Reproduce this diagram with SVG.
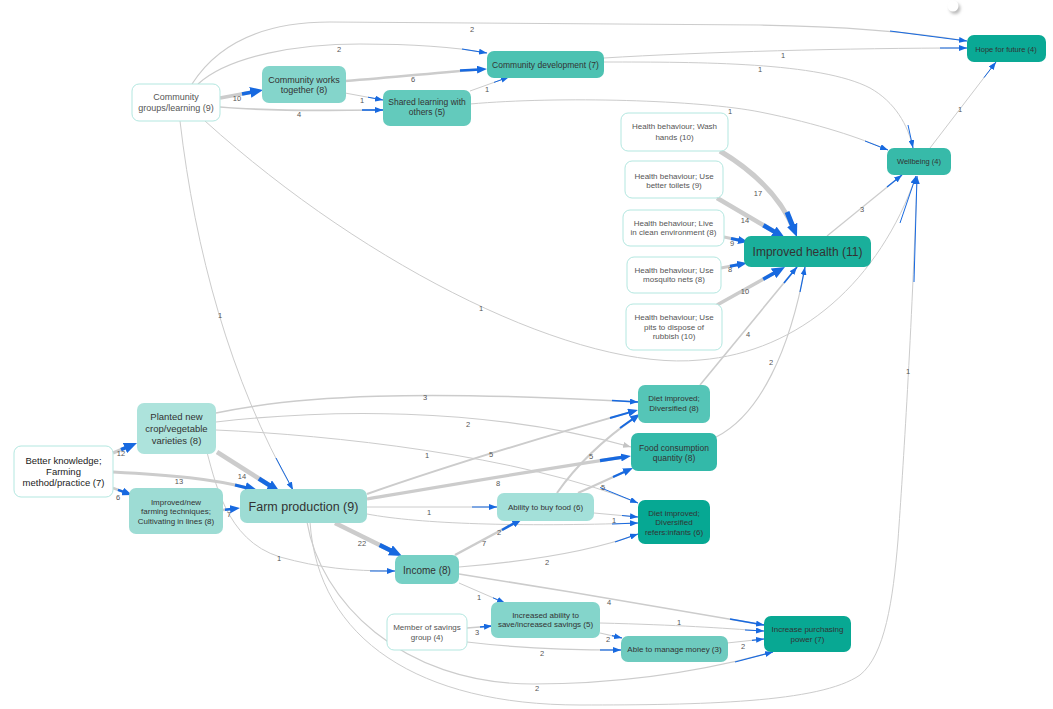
<svg xmlns="http://www.w3.org/2000/svg" width="1053" height="709" viewBox="0 0 1053 709">
<style>
.e{fill:none;stroke:#cccccc}
.b{fill:none;stroke:#1769e0}
.l{font-family:"Liberation Sans",Arial,sans-serif;font-size:7.5px;fill:#555;text-anchor:middle}
.n text{font-family:"Liberation Sans",Arial,sans-serif;text-anchor:middle;fill:#333}
.w rect{fill:#ffffff;stroke:#b3e7e0;stroke-width:1}
.w text{fill:#555}
</style>
<defs>
<marker id="as" viewBox="0 0 8 6" markerWidth="8" markerHeight="6" refX="8" refY="3" orient="auto" markerUnits="userSpaceOnUse"><path d="M0,0 L8,3 L0,6 z" fill="#1769e0"/></marker>
<marker id="ag" viewBox="0 0 8 6" markerWidth="8" markerHeight="6" refX="8" refY="3" orient="auto" markerUnits="userSpaceOnUse"><path d="M0,0 L8,3 L0,6 z" fill="#c4c4c4"/></marker>
<marker id="am" viewBox="0 0 10 8" markerWidth="10" markerHeight="8" refX="4" refY="4" orient="auto" markerUnits="userSpaceOnUse"><path d="M0,0 L10,4 L0,8 z" fill="#1769e0"/></marker>
<marker id="al" viewBox="0 0 13 11" markerWidth="13" markerHeight="11" refX="5" refY="5.5" orient="auto" markerUnits="userSpaceOnUse"><path d="M0,0 L13,5.5 L0,11 z" fill="#1769e0"/></marker>
<filter id="sh" x="-1" y="-1" width="3" height="3"><feGaussianBlur stdDeviation="1.5"/></filter>
</defs>
<rect width="1053" height="709" fill="#ffffff"/>
<g id="connectors">
<path class="e" stroke-width="3.5" d="M220,98 L255.2,91.5"/>
<path class="b" stroke-width="3.5" d="M242,94 L255.2,91.5" marker-end="url(#al)"/>
<text class="l" x="237" y="101">10</text>
<path class="e" stroke-width="1.6" d="M220,107 C280,112 330,110 383,110"/>
<path class="b" stroke-width="1.6" d="M362,110 L383,110" marker-end="url(#as)"/>
<text class="l" x="299" y="117">4</text>
<path class="e" stroke-width="1.2" d="M198,84 C230,55 300,44 360,44 C420,44 460,48 487,53"/>
<path class="b" stroke-width="1.2" d="M462,49 L487,53" marker-end="url(#as)"/>
<text class="l" x="339" y="52">2</text>
<path class="e" stroke-width="1.2" d="M192,84 C220,40 270,22 330,22 L760,25 C830,26 900,30 967,41"/>
<path class="b" stroke-width="1.2" d="M890,31 L967,41" marker-end="url(#as)"/>
<text class="l" x="472" y="32">2</text>
<path class="e" stroke-width="1" d="M180,121 C195,250 230,380 293,490"/>
<path class="b" stroke-width="1" d="M276,458 L293,490" marker-end="url(#as)"/>
<text class="l" x="220" y="318">1</text>
<path class="e" stroke-width="1" d="M205,121 C370,270 580,372 700,360 C800,352 880,280 916,176"/>
<path class="b" stroke-width="1" d="M900,223 L916,176" marker-end="url(#as)"/>
<text class="l" x="481" y="311">1</text>
<path class="e" stroke-width="2.5" d="M345,81 C400,77 440,72 481,69.4"/>
<path class="b" stroke-width="2.5" d="M460,70.6 L481,69.4" marker-end="url(#am)"/>
<text class="l" x="413" y="82">6</text>
<path class="e" stroke-width="1" d="M345,93 L383,100"/>
<path class="b" stroke-width="1" d="M368,97.2 L383,100" marker-end="url(#as)"/>
<text class="l" x="362" y="103">1</text>
<path class="e" stroke-width="1" d="M470,91 L509,77"/>
<path class="b" stroke-width="1" d="M494,82.4 L509,77" marker-end="url(#as)"/>
<text class="l" x="487" y="92">1</text>
<path class="e" stroke-width="1" d="M470,104 C560,96 700,100 760,112 C820,124 860,138 888,150"/>
<path class="b" stroke-width="1" d="M865,141 L888,150" marker-end="url(#as)"/>
<text class="l" x="730" y="114">1</text>
<path class="e" stroke-width="1" d="M604,58 C700,52 850,48 967,48"/>
<path class="b" stroke-width="1" d="M940,48 L967,48" marker-end="url(#as)"/>
<text class="l" x="783" y="58">1</text>
<path class="e" stroke-width="1" d="M604,62 C700,62 820,62 870,88 C895,102 908,125 913,148"/>
<path class="b" stroke-width="1" d="M908,125 L913,148" marker-end="url(#as)"/>
<text class="l" x="760" y="72">1</text>
<path class="e" stroke-width="1" d="M930,148 L996,62"/>
<path class="b" stroke-width="1" d="M984,77.6 L996,62" marker-end="url(#as)"/>
<text class="l" x="960" y="112">1</text>
<path class="e" stroke-width="1.2" d="M827,236 L902,175"/>
<path class="b" stroke-width="1.2" d="M887,187 L902,175" marker-end="url(#as)"/>
<text class="l" x="862" y="212">3</text>
<path class="e" stroke-width="5" d="M720,151 C760,175 783,203 794,229.5"/>
<path class="b" stroke-width="5" d="M787,212 L794,229.5" marker-end="url(#al)"/>
<text class="l" x="758" y="196">17</text>
<path class="e" stroke-width="4.5" d="M717,198 L778.1,233.9"/>
<path class="b" stroke-width="4.5" d="M763.4,225.3 L778.1,233.9" marker-end="url(#al)"/>
<text class="l" x="745" y="223">14</text>
<path class="e" stroke-width="3" d="M724,237 L742.1,240.8"/>
<path class="b" stroke-width="3" d="M731,238.5 L742.1,240.8" marker-end="url(#am)"/>
<text class="l" x="732" y="246">9</text>
<path class="e" stroke-width="3" d="M721,268 L741.1,264.1"/>
<path class="b" stroke-width="3" d="M730,266.2 L741.1,264.1" marker-end="url(#am)"/>
<text class="l" x="730" y="272">8</text>
<path class="e" stroke-width="3.5" d="M717,305 L778,270.9"/>
<path class="b" stroke-width="3.5" d="M763.2,279.2 L778,270.9" marker-end="url(#al)"/>
<text class="l" x="745" y="294">10</text>
<path class="e" stroke-width="1.6" d="M700,385 L797,267"/>
<path class="b" stroke-width="1.6" d="M784,283 L797,267" marker-end="url(#as)"/>
<text class="l" x="748" y="337">4</text>
<path class="e" stroke-width="1.2" d="M716,437 C760,415 790,350 805,267"/>
<path class="b" stroke-width="1.2" d="M800,292 L805,267" marker-end="url(#as)"/>
<text class="l" x="771" y="365">2</text>
<path class="e" stroke-width="3.5" d="M113,453 L129.6,446.1"/>
<path class="b" stroke-width="3.5" d="M121,449.7 L129.6,446.1" marker-end="url(#al)"/>
<text class="l" x="121" y="456">12</text>
<path class="e" stroke-width="3" d="M113,472 C170,475 215,479 250.3,488.8"/>
<path class="b" stroke-width="3" d="M235,485 L250.3,488.8" marker-end="url(#al)"/>
<text class="l" x="179" y="484">13</text>
<path class="e" stroke-width="2.5" d="M113,488 L126.4,492.9"/>
<path class="b" stroke-width="2.5" d="M118,489.8 L126.4,492.9" marker-end="url(#am)"/>
<text class="l" x="118" y="500">6</text>
<path class="e" stroke-width="4.5" d="M217,452 L273.2,487.7"/>
<path class="b" stroke-width="4.5" d="M258.9,478.6 L273.2,487.7" marker-end="url(#al)"/>
<text class="l" x="242" y="479">14</text>
<path class="e" stroke-width="1.5" d="M216,413 C300,395 420,390 638,402"/>
<path class="b" stroke-width="1.5" d="M612,400.6 L638,402" marker-end="url(#as)"/>
<text class="l" x="425" y="400">3</text>
<path class="e" stroke-width="1.2" d="M216,422 C320,410 480,405 631,447" marker-end="url(#ag)"/>
<text class="l" x="468" y="427">2</text>
<path class="e" stroke-width="1" d="M216,430 C330,435 520,455 638,503"/>
<path class="b" stroke-width="1" d="M600,487.5 L638,503" marker-end="url(#as)"/>
<text class="l" x="427" y="458">1</text>
<path class="e" stroke-width="1" d="M205,445 C215,480 225,540 280,557 C320,568 350,571 395,571"/>
<path class="b" stroke-width="1" d="M370,571 L395,571" marker-end="url(#as)"/>
<text class="l" x="279" y="561">1</text>
<path class="e" stroke-width="2.5" d="M223,510 L234,508.7"/>
<path class="b" stroke-width="2.5" d="M225,509.8 L234,508.7" marker-end="url(#am)"/>
<text class="l" x="229" y="517">7</text>
<path class="e" stroke-width="2" d="M367,494 C450,465 550,435 632.2,411.6"/>
<path class="b" stroke-width="2" d="M610,418 L632.2,411.6" marker-end="url(#am)"/>
<text class="l" x="491" y="457">5</text>
<path class="e" stroke-width="3.2" d="M367,499 C450,485 550,468 625,456.9"/>
<path class="b" stroke-width="3.2" d="M600,460.6 L625,456.9" marker-end="url(#am)"/>
<text class="l" x="498" y="486">8</text>
<path class="e" stroke-width="1" d="M367,507 L497,507"/>
<path class="b" stroke-width="1" d="M472,507 L497,507" marker-end="url(#as)"/>
<text class="l" x="429" y="515">1</text>
<path class="e" stroke-width="1" d="M367,514 C420,524 520,527 638,523"/>
<path class="b" stroke-width="1" d="M612,524 L638,523" marker-end="url(#as)"/>
<path class="e" stroke-width="1" d="M594,513 L638,517"/>
<path class="b" stroke-width="1" d="M622,515.5 L638,517" marker-end="url(#as)"/>
<text class="l" x="614" y="523">1</text>
<path class="e" stroke-width="4.5" d="M335,523 L394.8,552.5"/>
<path class="b" stroke-width="4.5" d="M379.6,545 L394.8,552.5" marker-end="url(#al)"/>
<text class="l" x="362" y="546">22</text>
<path class="e" stroke-width="1.2" d="M307,522 C320,600 400,684 533,684 C620,684 700,672 773,652"/>
<path class="b" stroke-width="1.2" d="M735,662 L773,652" marker-end="url(#as)"/>
<text class="l" x="537" y="691">2</text>
<path class="e" stroke-width="1" d="M310,522 C318,640 420,705 580,705 C700,705 820,703 860,675 C885,655 893,600 898,540 C903,470 912,330 917,176"/>
<path class="b" stroke-width="1" d="M914,282 L917,176" marker-end="url(#as)"/>
<text class="l" x="908" y="374">1</text>
<path class="e" stroke-width="2" d="M557,493 C580,460 610,435 635.1,417.4"/>
<path class="b" stroke-width="2" d="M620,428 L635.1,417.4" marker-end="url(#am)"/>
<text class="l" x="591" y="459">5</text>
<path class="e" stroke-width="2" d="M578,493 L627.5,470.5"/>
<path class="b" stroke-width="2" d="M613,477 L627.5,470.5" marker-end="url(#am)"/>
<text class="l" x="603" y="490">5</text>
<path class="e" stroke-width="2.5" d="M455,555 L516.7,521.8"/>
<path class="b" stroke-width="2.5" d="M502,530 L516.7,521.8" marker-end="url(#am)"/>
<text class="l" x="484" y="546">7</text>
<text class="l" x="499" y="535">2</text>
<path class="e" stroke-width="1.2" d="M459,567 C520,562 590,552 638,534"/>
<path class="b" stroke-width="1.2" d="M615,542 L638,534" marker-end="url(#as)"/>
<text class="l" x="547" y="565">2</text>
<path class="e" stroke-width="1" d="M459,583 L505,603"/>
<path class="b" stroke-width="1" d="M493,597.8 L505,603" marker-end="url(#as)"/>
<text class="l" x="479" y="600">1</text>
<path class="e" stroke-width="1.6" d="M459,574 C560,590 680,610 764,625"/>
<path class="b" stroke-width="1.6" d="M730,619 L764,625" marker-end="url(#as)"/>
<text class="l" x="609" y="605">4</text>
<path class="e" stroke-width="1.5" d="M467,628 L492,626"/>
<path class="b" stroke-width="1.5" d="M480,627 L492,626" marker-end="url(#as)"/>
<text class="l" x="477" y="635">3</text>
<path class="e" stroke-width="1.2" d="M467,642 C500,646 560,650 621,650"/>
<path class="b" stroke-width="1.2" d="M600,650 L621,650" marker-end="url(#as)"/>
<text class="l" x="542" y="656">2</text>
<path class="e" stroke-width="1.2" d="M600,633 L622,638"/>
<path class="b" stroke-width="1.2" d="M612,635.7 L622,638" marker-end="url(#as)"/>
<text class="l" x="608" y="642">2</text>
<path class="e" stroke-width="1" d="M600,623 C680,625 720,628 764,631"/>
<path class="b" stroke-width="1" d="M745,630 L764,631" marker-end="url(#as)"/>
<text class="l" x="679" y="625">1</text>
<path class="e" stroke-width="1.2" d="M727,643 L764,639"/>
<path class="b" stroke-width="1.2" d="M752,640.3 L764,639" marker-end="url(#as)"/>
<text class="l" x="743" y="649">2</text>
</g>

<g id="n-cg" class="n w"><rect x="132" y="84" width="88" height="37" rx="7"/><text x="176" y="100" font-size="9">Community</text><text x="176" y="111" font-size="9">groups/learning (9)</text></g>
<g id="n-cwt" class="n"><rect x="262" y="66" width="84" height="37" rx="7" fill="#84d5cb"/><text x="304" y="82.5" font-size="9">Community works</text><text x="304" y="92.5" font-size="9">together (8)</text></g>
<g id="n-sl" class="n"><rect x="383" y="90" width="88" height="36" rx="7" fill="#63cabc"/><text x="427" y="105" font-size="8.5">Shared learning with</text><text x="427" y="115.3" font-size="8.5">others (5)</text></g>
<g id="n-cd" class="n"><rect x="487" y="51" width="117" height="27" rx="7" fill="#4dc2b2"/><text x="545.5" y="67.5" font-size="8.5">Community development (7)</text></g>
<g id="n-hf" class="n"><rect x="967" y="35" width="79" height="27" rx="7" fill="#0aa995"/><text x="1006" y="51.5" font-size="7.5">Hope for future (4)</text></g>
<g id="n-wb" class="n"><rect x="887" y="148" width="64" height="27" rx="7" fill="#37baa9"/><text x="919" y="164.3" font-size="7.5">Wellbeing (4)</text></g>
<g id="n-hb1" class="n w"><rect x="621" y="113" width="107" height="38" rx="7"/><text x="674.5" y="129" font-size="8">Health behaviour; Wash</text><text x="674.5" y="139.7" font-size="8">hands (10)</text></g>
<g id="n-hb2" class="n w"><rect x="625" y="161" width="98" height="37" rx="7"/><text x="674" y="178.7" font-size="8">Health behaviour; Use</text><text x="674" y="188.3" font-size="8">better toilets (9)</text></g>
<g id="n-hb3" class="n w"><rect x="623" y="210" width="101" height="36" rx="7"/><text x="673.5" y="226.3" font-size="8">Health behaviour; Live</text><text x="673.5" y="235.3" font-size="8">in clean environment (8)</text></g>
<g id="n-hb4" class="n w"><rect x="627" y="257" width="94" height="36" rx="7"/><text x="674" y="273" font-size="8">Health behaviour; Use</text><text x="674" y="282.3" font-size="8">mosquito nets (8)</text></g>
<g id="n-hb5" class="n w"><rect x="626" y="304" width="96" height="46" rx="7"/><text x="674" y="320" font-size="8">Health behaviour; Use</text><text x="674" y="330" font-size="8">pits to dispose of</text><text x="674" y="339" font-size="8">rubbish (10)</text></g>
<g id="n-ih" class="n"><rect x="744" y="236" width="127" height="31" rx="7" fill="#1aaf9b"/><text x="807.5" y="255.5" font-size="12" fill="#222">Improved health (11)</text></g>
<g id="n-bk" class="n w"><rect x="14" y="446" width="99" height="51" rx="7"/><text x="63.5" y="464" font-size="9.5" style="fill:#222">Better knowledge;</text><text x="63.5" y="474.5" font-size="9.5" style="fill:#222">Farming</text><text x="63.5" y="486" font-size="9.5" style="fill:#222">method/practice (7)</text></g>
<g id="n-pn" class="n"><rect x="137" y="403" width="79" height="51" rx="7" fill="#ade3dc"/><text x="176.5" y="420" font-size="9.5">Planted new</text><text x="176.5" y="432" font-size="9.5">crop/vegetable</text><text x="176.5" y="443.5" font-size="9.5">varieties (8)</text></g>
<g id="n-it" class="n"><rect x="129" y="488" width="94" height="46" rx="7" fill="#9ddcd4"/><text x="176" y="504.5" font-size="8">Improved/new</text><text x="176" y="514" font-size="8">farming techniques;</text><text x="176" y="524" font-size="8">Cultivating in lines (8)</text></g>
<g id="n-fp" class="n"><rect x="240" y="489" width="127" height="34" rx="7" fill="#9ddcd4"/><text x="303.5" y="511" font-size="12.5" fill="#222">Farm production (9)</text></g>
<g id="n-di" class="n"><rect x="638" y="385" width="72" height="38" rx="7" fill="#55c5b7"/><text x="674" y="401.3" font-size="8">Diet improved;</text><text x="674" y="410.7" font-size="8">Diversified (8)</text></g>
<g id="n-fcq" class="n"><rect x="631" y="433" width="86" height="38" rx="7" fill="#33b9a9"/><text x="674" y="450.5" font-size="8.5">Food consumption</text><text x="674" y="461" font-size="8.5">quantity (8)</text></g>
<g id="n-dii" class="n"><rect x="638" y="500" width="72" height="44" rx="7" fill="#06a893"/><text x="674" y="516.3" font-size="8">Diet improved;</text><text x="674" y="525.3" font-size="8">Diversified</text><text x="674" y="534.7" font-size="8">refers:infants (6)</text></g>
<g id="n-abf" class="n"><rect x="497" y="493" width="97" height="28" rx="7" fill="#a3e0d9"/><text x="545.5" y="509.5" font-size="8">Ability to buy food (6)</text></g>
<g id="n-inc" class="n"><rect x="395" y="555" width="64" height="29" rx="7" fill="#76d0c5"/><text x="427" y="573.5" font-size="10" fill="#222">Income (8)</text></g>
<g id="n-ms" class="n w"><rect x="387" y="614" width="80" height="36" rx="7"/><text x="427" y="630.3" font-size="8">Member of savings</text><text x="427" y="639.7" font-size="8">group (4)</text></g>
<g id="n-is" class="n"><rect x="491" y="602" width="109" height="36" rx="7" fill="#84d5cb"/><text x="545.5" y="618.3" font-size="8">Increased ability to</text><text x="545.5" y="627.3" font-size="8">save/increased savings (5)</text></g>
<g id="n-amm" class="n"><rect x="621" y="636" width="107" height="26" rx="7" fill="#6ecbbf"/><text x="674.5" y="651.7" font-size="8">Able to manage money (3)</text></g>
<g id="n-ipp" class="n"><rect x="764" y="616" width="87" height="36" rx="7" fill="#08a893"/><text x="807.5" y="632.3" font-size="8">Increase purchasing</text><text x="807.5" y="641.7" font-size="8">power (7)</text></g>

<g id="corner-dot"><circle cx="955" cy="8.5" r="5.5" fill="#bbbbbb" filter="url(#sh)"/><circle cx="953" cy="6" r="5.5" fill="#ffffff"/></g>
</svg>
